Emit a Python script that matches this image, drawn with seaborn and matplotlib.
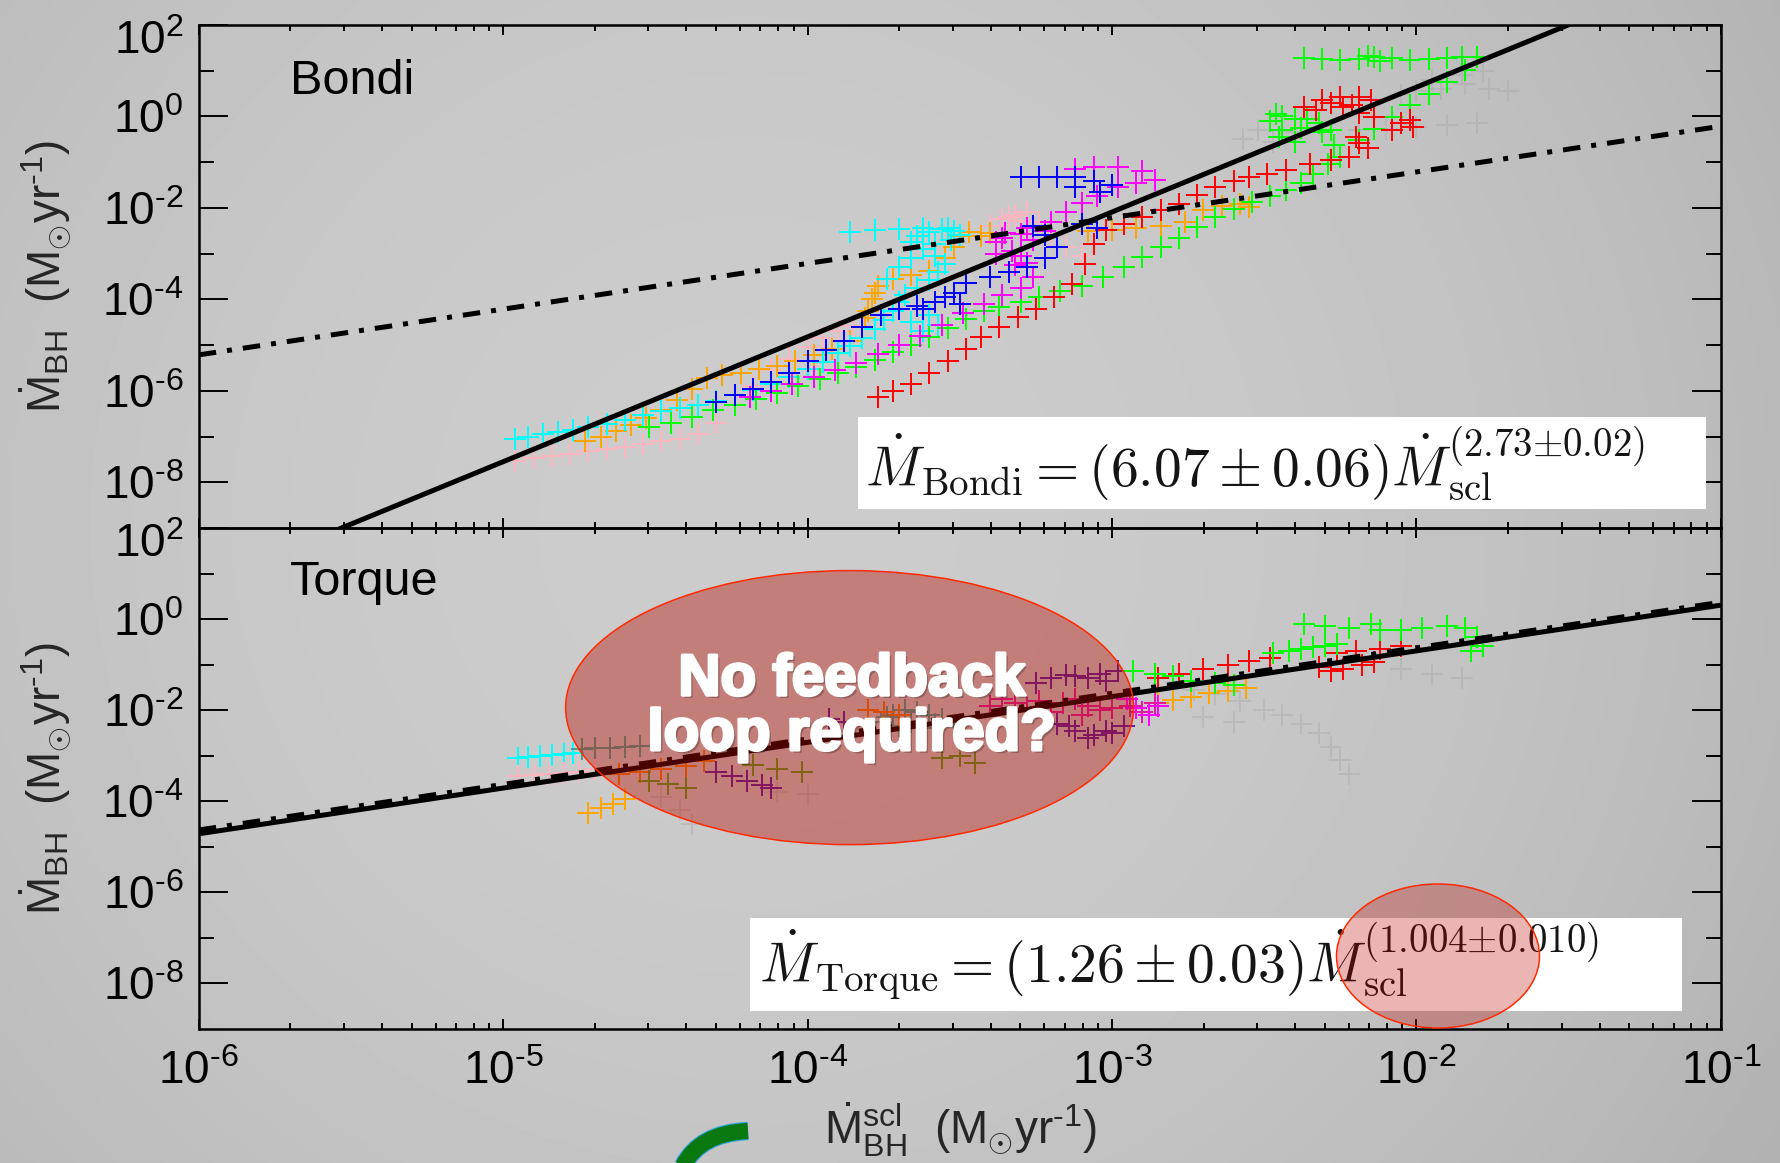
import numpy as np
import pandas as pd
import matplotlib
matplotlib.use("Agg")
import matplotlib.pyplot as plt
import seaborn as sns
from matplotlib import font_manager
from matplotlib.patches import Ellipse, Rectangle, PathPatch
from matplotlib.path import Path
from matplotlib.transforms import ScaledTranslation
import matplotlib.patheffects as pe
from matplotlib.ticker import FixedLocator, FuncFormatter, NullFormatter, LogLocator

# ---------------- data (log10 values) ----------------
# Top panel: Bondi model, (log10 Mdot_scl, log10 Mdot_BH)
bondi_cyan = [(-4.96,-7.05),(-4.92,-7.00),(-4.87,-6.95),(-4.82,-6.90),(-4.77,-6.86),(-4.72,-6.80),
              (-4.66,-6.72),(-4.60,-6.63),(-4.54,-6.52),(-4.48,-6.45),(-4.42,-6.38),(-4.36,-6.31),
              (-4.30,-6.22),(-4.24,-6.10),(-4.18,-5.98),(-4.12,-5.85),(-4.06,-5.70),(-4.00,-5.52),
              (-3.95,-5.36),(-3.90,-5.18),(-3.86,-5.02),(-3.82,-4.85),(-3.78,-4.65),(-3.75,-4.45),
              (-3.72,-4.25),(-3.70,-4.05),(-3.68,-3.90),(-3.64,-3.75),(-3.60,-3.58),(-3.57,-3.40),
              (-3.55,-3.22),(-3.58,-3.05),(-3.62,-2.90),(-3.66,-2.75),(-3.64,-2.62),(-3.60,-2.52),
              (-3.56,-2.47),(-3.52,-2.50),(-3.50,-2.60),(-3.54,-2.45),(-3.62,-2.44),(-3.70,-2.46),
              (-3.78,-2.48),(-3.86,-2.52),(-3.60,-4.35),(-3.57,-4.55),(-3.62,-4.70),(-3.66,-4.50),
              (-3.74,-3.55),(-3.70,-3.30),(-3.66,-3.10),(-3.58,-2.80),(-3.53,-2.70)]
bondi_orange = [(-4.73,-7.09),(-4.68,-7.00),(-4.63,-6.88),(-4.58,-6.75),(-4.53,-6.60),(-4.48,-6.42),
                (-4.43,-6.20),(-4.38,-5.95),(-4.33,-5.72),(-4.28,-5.66),(-4.22,-5.60),(-4.16,-5.53),
                (-4.10,-5.45),(-4.04,-5.35),(-3.98,-5.22),(-3.92,-5.08),(-3.86,-4.92),(-3.82,-4.60),
                (-3.80,-4.25),(-3.79,-4.00),(-3.77,-3.70),(-3.72,-3.55),(-3.66,-3.47),(-3.60,-3.38),
                (-3.55,-3.10),(-3.52,-2.85),(-3.50,-2.62),(-3.47,-2.52),(-3.43,-2.62),(-3.40,-2.55),
                (-3.08,-2.50),(-3.00,-2.48),(-2.92,-2.45),(-2.84,-2.40),(-2.76,-2.30),(-2.70,-2.05),
                (-2.64,-1.95),(-2.58,-1.92),(-2.55,-1.98),(-3.81,-4.40),(-3.78,-3.85)]
bondi_pink = [(-4.96,-7.53),(-4.90,-7.48),(-4.84,-7.43),(-4.78,-7.38),(-4.72,-7.32),(-4.66,-7.27),
              (-4.60,-7.22),(-4.54,-7.16),(-4.48,-7.10),(-4.42,-7.05),(-4.36,-6.95),(-4.30,-6.70),
              (-4.24,-6.30),(-4.18,-5.90),(-4.12,-5.55),(-4.06,-5.30),(-4.00,-5.05),(-3.95,-4.85),
              (-3.90,-4.70),(-3.85,-4.58),(-3.40,-2.40),(-3.36,-2.25),(-3.32,-2.15),(-3.28,-2.10),
              (-3.24,-2.30),(-3.20,-2.60),(-3.15,-2.85),(-3.10,-3.05),(-3.34,-2.20),(-3.30,-2.28)]
bondi_blue = [(-4.30,-6.25),(-4.24,-6.10),(-4.18,-5.95),(-4.12,-5.80),(-4.06,-5.60),(-4.00,-5.35),
              (-3.94,-5.10),(-3.88,-4.90),(-3.82,-4.60),(-3.76,-4.35),(-3.70,-4.22),(-3.64,-4.15),
              (-3.58,-4.05),(-3.52,-3.85),(-3.48,-3.65),(-3.40,-3.50),(-3.34,-3.40),(-3.28,-3.30),
              (-3.22,-3.10),(-3.18,-2.85),(-3.22,-2.60),(-3.26,-2.40),(-3.10,-2.35),(-3.05,-2.45),
              (-3.04,-1.65),(-3.00,-1.50),(-3.06,-1.42),(-3.12,-1.55),(-3.30,-1.32),(-3.24,-1.32),
              (-3.18,-1.33),(-3.12,-1.33),(-3.55,-3.95),(-3.62,-4.20),(-3.50,-4.10)]
bondi_magenta = [(-4.19,-6.14),(-4.12,-6.00),(-4.05,-5.85),(-3.98,-5.70),(-3.91,-5.55),(-3.84,-5.40),
                 (-3.77,-5.20),(-3.70,-5.00),(-3.63,-4.80),(-3.56,-4.55),(-3.49,-4.30),(-3.42,-4.10),
                 (-3.36,-3.90),(-3.30,-3.75),(-3.26,-3.50),(-3.28,-3.20),(-3.33,-2.95),(-3.38,-2.75),
                 (-3.35,-2.55),(-3.28,-2.45),(-3.20,-2.30),(-3.15,-2.10),(-3.10,-1.90),(-3.05,-1.75),
                 (-2.98,-1.55),(-2.92,-1.45),(-2.86,-1.40),(-2.90,-1.20),(-2.98,-1.10),(-3.06,-1.10),
                 (-3.12,-1.15),(-3.30,-3.05),(-3.36,-2.65),(-3.22,-2.50),(-3.38,-3.00),(-3.32,-3.25),
                 (-3.26,-2.70),(-3.30,-2.58)]
bondi_green = [(-4.52,-6.80),(-4.45,-6.70),(-4.38,-6.57),(-4.31,-6.43),(-4.24,-6.30),(-4.17,-6.17),
               (-4.10,-6.05),(-4.03,-5.90),(-3.96,-5.75),(-3.90,-5.60),(-3.84,-5.48),(-3.78,-5.32),
               (-3.72,-5.15),(-3.66,-5.00),(-3.60,-4.83),(-3.54,-4.62),(-3.48,-4.42),(-3.42,-4.25),
               (-3.37,-4.17),(-3.30,-4.05),(-3.24,-3.95),(-3.17,-3.82),(-3.10,-3.70),(-3.03,-3.50),
               (-2.96,-3.30),(-2.90,-3.07),(-2.84,-2.85),(-2.78,-2.65),(-2.72,-2.42),(-2.66,-2.20),
               (-2.60,-2.02),(-2.54,-1.88),(-2.48,-1.74),(-2.43,-1.61),(-2.38,-1.45),(-2.34,-1.25),
               (-2.29,-1.05),(-2.25,-0.88),(-2.27,-0.62),(-2.31,-0.35),(-2.38,-0.25),(-2.44,-0.30),
               (-2.48,-0.10),(-2.46,0.05),(-2.40,-0.05),(-2.44,0.00),(-2.36,-0.05),(-2.32,-0.15),
               (-2.28,-0.30),(-2.45,-0.45),(-2.40,-0.55),
               (-2.19,-0.52),(-2.14,-0.28),(-2.08,-0.01),(-2.02,0.25),(-1.96,0.50),(-1.90,0.75),
               (-1.84,1.01),(-1.80,1.31),(-2.37,1.27),(-2.31,1.25),(-2.25,1.23),(-2.19,1.26),
               (-2.14,1.31),(-2.08,1.27),(-2.02,1.23),(-1.96,1.25),(-1.90,1.27),(-1.85,1.30),
               (-2.16,1.33),(-2.12,1.22)]
bondi_red = [(-3.77,-6.14),(-3.72,-6.00),(-3.66,-5.85),(-3.60,-5.60),(-3.54,-5.34),(-3.48,-5.08),
             (-3.43,-4.83),(-3.37,-4.60),(-3.31,-4.39),(-3.25,-4.20),(-3.19,-3.95),(-3.13,-3.66),
             (-3.09,-3.22),(-3.06,-2.78),(-3.02,-2.49),(-2.96,-2.35),(-2.90,-2.20),(-2.84,-2.05),
             (-2.78,-1.91),(-2.72,-1.72),(-2.66,-1.54),(-2.60,-1.42),(-2.55,-1.32),(-2.49,-1.25),
             (-2.43,-1.18),(-2.35,-1.03),(-2.28,-0.95),(-2.22,-0.88),(-2.19,-0.59),(-2.16,-0.70),
             (-2.20,-0.45),(-2.14,-0.01),(-2.08,-0.30),(-2.02,-0.08),(-2.01,-0.23),(-2.05,-0.15),
             (-2.19,0.07),(-2.37,0.21),(-2.33,0.14),(-2.31,0.36),(-2.28,0.30),(-2.25,0.43),
             (-2.24,0.21),(-2.19,0.43),(-2.15,0.36),(-2.21,0.25)]
bondi_gray = [(-2.57,-0.50),(-2.52,-0.30),(-2.47,-0.55),(-2.40,-0.35),(-2.19,-0.30),(-2.10,-0.28),
              (-2.00,-0.22),(-1.90,-0.18),(-1.80,-0.15),(-2.00,0.55),(-1.92,0.60),(-1.84,0.70),
              (-1.76,0.60),(-1.70,0.55),(-1.85,0.90),(-1.78,1.00),(-2.05,0.48),(-1.95,0.80)]

# Bottom panel: Torque model
torque_cyan = [(-4.95,-3.05),(-4.92,-3.02),(-4.88,-3.00),(-4.84,-2.98),(-4.80,-2.97),(-4.77,-2.95)]
torque_teal = [(-4.74,-2.85),(-4.70,-2.83),(-4.65,-2.82),(-4.60,-2.80),(-4.55,-2.78),
               (-3.76,-2.25),(-3.72,-2.10),(-3.68,-2.00),(-3.64,-2.05),(-3.60,-2.10),(-3.56,-2.20),
               (-3.52,-2.35),(-3.70,-2.35),(-3.62,-2.40),(-3.74,-2.15),(-3.66,-2.25),(-3.58,-2.30)]
torque_pink = [(-4.95,-3.45),(-4.90,-3.42),(-4.85,-3.40),(-4.80,-3.38),(-4.75,-3.35),(-4.70,-3.30)]
torque_orange = [(-4.72,-4.25),(-4.68,-4.15),(-4.64,-4.05),(-4.60,-3.95),
                 (-2.85,-1.85),(-2.80,-1.78),(-2.74,-1.70),(-2.68,-1.62),(-2.62,-1.58),(-2.56,-1.52)]
torque_darkorange = [(-4.62,-3.40),(-4.55,-3.35),(-4.48,-3.30),(-4.40,-3.22),(-4.34,-3.12),
                     (-3.80,-2.00),(-3.75,-2.05),(-3.70,-2.10)]
torque_olive = [(-4.52,-3.55),(-4.46,-3.62),(-4.40,-3.70),(-4.18,-3.20),(-4.10,-3.30),(-4.02,-3.35),
                (-3.56,-3.05),(-3.50,-3.00),(-3.45,-3.15)]
torque_purple = [(-4.30,-3.35),(-4.25,-3.45),(-4.20,-3.55),(-4.15,-3.65),(-4.12,-3.70),(-3.93,-2.20),
                 (-3.88,-2.25),(-3.25,-1.40),(-3.20,-1.30),(-3.12,-1.25),(-3.04,-1.20),(-2.98,-1.15),
                 (-3.18,-2.30),(-3.12,-2.45),(-3.06,-2.55),(-3.00,-2.50),(-2.96,-2.35),
                 (-3.15,-1.22),(-3.08,-1.30),(-3.02,-1.35),(-3.14,-2.35),(-3.08,-2.60),(-3.02,-2.45)]
torque_deeppink = [(-3.40,-1.90),(-3.32,-1.85),(-3.24,-1.80),(-3.16,-1.85),(-3.08,-1.90),(-3.00,-1.95),
                   (-2.94,-1.90),(-2.90,-2.05),(-2.86,-1.85),(-3.20,-2.05),(-3.10,-2.10),
                   (-3.36,-1.75),(-3.28,-1.95),(-3.12,-1.75),(-3.04,-2.00)]
torque_magenta = [(-2.95,-1.75),(-2.92,-1.95),(-2.88,-2.10),(-2.85,-1.90)]
torque_red = [(-2.85,-1.30),(-2.78,-1.20),(-2.70,-1.10),(-2.62,-1.00),(-2.55,-0.92),(-2.48,-0.85),
              (-2.32,-1.05),(-2.28,-1.15),(-2.24,-1.10),(-2.18,-1.00),(-2.14,-0.95),(-2.26,-0.75),
              (-2.20,-0.70),(-2.12,-0.65),(-2.05,-0.60)]
torque_green = [(-2.93,-1.15),(-2.86,-1.20),(-2.80,-1.25),(-2.74,-1.35),(-2.66,-1.40),(-2.60,-1.45),
                (-2.47,-0.75),(-2.42,-0.70),(-2.38,-0.65),(-2.34,-0.62),(-2.30,-0.60),(-2.26,-0.55),
                (-2.37,-0.10),(-2.30,-0.15),(-2.22,-0.20),(-2.15,-0.10),(-2.12,-0.25),(-2.05,-0.25),
                (-1.98,-0.20),(-1.90,-0.15),(-1.84,-0.20),(-1.80,-0.40),(-1.78,-0.60),(-1.82,-0.70)]
torque_gray = [(-2.73,-1.55),(-2.66,-1.65),(-2.58,-1.80),(-2.50,-2.00),(-2.44,-2.10),(-2.38,-2.30),
               (-2.32,-2.50),(-2.28,-2.80),(-2.25,-3.10),(-2.22,-3.40),(-2.05,-1.10),(-1.95,-1.20),
               (-1.85,-1.30),(-4.48,-3.90),(-4.42,-4.20),(-4.38,-4.50),(-4.10,-3.80),(-4.00,-3.85),
               (-2.60,-2.25),(-2.70,-2.15)]

# fits: (slope, log10 normalisation)
bondi_fit = (2.73, 6.10)
bondi_linear = (1.0, 0.786)
torque_fit = (1.004, 1.31)
torque_linear = (1.0, 1.37)

x_tick_exps = [-6, -5, -4, -3, -2, -1]
y_tick_exps = [-8, -6, -4, -2, 0, 2]
y_minor_exps = [-7, -5, -3, -1, 1]

# ---------------- styles ----------------
colors = {
    "cyan": "#00ffff", "orange": "#ffa500", "pink": "#ffb6c1", "blue": "#0000ff",
    "magenta": "#ff00ff", "green": "#00ff00", "red": "#ff0000", "gray": "#a6a6a6",
    "teal": "#4f9b90", "darkorange": "#f07800", "olive": "#5a9e20", "purple": "#5b1a9e",
    "deeppink": "#e0189a",
}

rows = []
for panel, series in [
    ("bondi", {"gray": bondi_gray, "pink": bondi_pink, "orange": bondi_orange, "cyan": bondi_cyan,
               "green": bondi_green, "red": bondi_red, "magenta": bondi_magenta, "blue": bondi_blue}),
    ("torque", {"gray": torque_gray, "cyan": torque_cyan, "pink": torque_pink, "teal": torque_teal,
                "orange": torque_orange, "darkorange": torque_darkorange, "olive": torque_olive,
                "purple": torque_purple, "deeppink": torque_deeppink, "magenta": torque_magenta,
                "red": torque_red, "green": torque_green}),
]:
    for name, pts in series.items():
        for lx, ly in pts:
            rows.append((panel, name, 10.0 ** lx, 10.0 ** ly))
df = pd.DataFrame(rows, columns=["panel", "series", "mdot_scl", "mdot_bh"])

# ---------------- figure ----------------
sns.set_theme(style="ticks")
installed = {f.name for f in font_manager.fontManager.ttflist}
narrow = "Liberation Sans Narrow" if "Liberation Sans Narrow" in installed else "Liberation Sans"
tick_fs = 36 if narrow == "Liberation Sans Narrow" else 33
lab_fs = 38 if narrow == "Liberation Sans Narrow" else 33
plt.rcParams["font.family"] = [narrow, "DejaVu Sans"]
plt.rcParams["mathtext.fontset"] = "custom"
plt.rcParams["mathtext.rm"] = narrow
plt.rcParams["mathtext.it"] = narrow + ":italic"
plt.rcParams["mathtext.bf"] = narrow + ":bold"

W, H = 1781, 1163
fig = plt.figure(figsize=(W / 100, H / 100), dpi=100)
fig.patch.set_facecolor("#c6c6c6")

# soft slide background (vignette)
yy, xx = np.mgrid[0:H, 0:W]
u = xx / W
v = yy / H
bg = 0.800 - 0.075 * ((u - 0.42) / 0.58) ** 2 - 0.03 * ((v - 0.45) / 0.55) ** 2
fig.figimage(np.clip(bg, 0, 1), cmap="gray", vmin=0, vmax=1, zorder=-5)

left, width = 198.8 / W, 1522 / W
ax1 = fig.add_axes([left, 1 - 528 / H, width, (528 - 25) / H])
ax2 = fig.add_axes([left, 1 - 1029 / H, width, (1029 - 528) / H])


def fmt(val, pos):
    e = int(round(np.log10(val)))
    if e < 0:
        return r"$\mathregular{10^{\text{-}%d}}$" % (-e)
    return r"$\mathregular{10^{%d}}$" % e


for ax, panel in [(ax1, "bondi"), (ax2, "torque")]:
    ax.set_facecolor("none")
    sub = df[df.panel == panel]
    for name in sub.series.unique():
        s = sub[sub.series == name]
        is_gray = name == "gray"
        sns.scatterplot(data=s, x="mdot_scl", y="mdot_bh", marker="+", s=260,
                        color=colors[name], linewidth=1.4, alpha=0.4 if is_gray else 1.0,
                        ax=ax, legend=False, zorder=2)
    ax.set_xscale("log")
    ax.set_yscale("log")
    ax.set_xlim(1e-6, 1e-1)
    ax.set_ylim(1e-9, 1e2)
    ax.set_xlabel("")
    ax.set_ylabel("")
    ax.xaxis.set_major_locator(FixedLocator([10.0 ** e for e in x_tick_exps]))
    ax.xaxis.set_minor_locator(LogLocator(base=10, subs=np.arange(2, 10), numticks=50))
    ax.yaxis.set_major_locator(FixedLocator([10.0 ** e for e in y_tick_exps]))
    ax.yaxis.set_minor_locator(FixedLocator([10.0 ** e for e in y_minor_exps]))
    ax.yaxis.set_major_formatter(FuncFormatter(fmt))
    ax.yaxis.set_minor_formatter(NullFormatter())
    ax.xaxis.set_major_formatter(FuncFormatter(fmt))
    ax.xaxis.set_minor_formatter(NullFormatter())
    ax.tick_params(axis="both", which="both", direction="in", top=True, right=True,
                   color="black", width=1.4, labelsize=tick_fs, labelcolor="black")
    ax.tick_params(axis="y", which="major", length=21, pad=11)
    ax.tick_params(axis="y", which="minor", length=11)
    ax.tick_params(axis="x", which="major", length=7.5, pad=15)
    ax.tick_params(axis="x", which="minor", length=4)
    for sp in ax.spines.values():
        sp.set_visible(True)
        sp.set_linewidth(1.8)
        sp.set_color("black")

ax1.tick_params(axis="x", labelbottom=False)

xs = np.array([1e-6, 1e-1])
for ax, fit, lin in [(ax1, bondi_fit, bondi_linear), (ax2, torque_fit, torque_linear)]:
    ax.plot(xs, 10 ** lin[1] * xs ** lin[0], color="black", lw=3.6,
            linestyle=(0, (3.5, 2.2, 1.0, 2.2)), zorder=4)
    ax.plot(xs, 10 ** fit[1] * xs ** fit[0], color="black", lw=3.6,
            solid_capstyle="butt", zorder=5)

ax1.text(0.0597, 0.887, "Bondi", transform=ax1.transAxes, ha="left", va="center",
         fontsize=35, color="black", family=["Liberation Sans", "DejaVu Sans"])
ax2.text(0.0597, 0.891, "Torque", transform=ax2.transAxes, ha="left", va="center",
         fontsize=35, color="black", family=["Liberation Sans", "DejaVu Sans"])

# axis labels
unit = r"(M$_{\odot}$yr$^{\text{-}1}$)"
ylab = r"$\dot{\mathrm{M}}_{\mathrm{BH}}$  " + unit
fig.text(45 / W, 1 - 277 / H, ylab, rotation=90, ha="center", va="center", fontsize=lab_fs)
fig.text(45 / W, 1 - 779 / H, ylab, rotation=90, ha="center", va="center", fontsize=lab_fs)
fig.text(960 / W, 1 - 1130 / H,
         r"$\dot{\mathrm{M}}^{\mathrm{scl}}_{\mathrm{BH}}$  " + unit,
         ha="center", va="center", fontsize=lab_fs)

# ellipse annotation
ell = Ellipse((0.4276, 0.6415), 0.3732, 0.547, transform=ax2.transAxes,
              facecolor=(0.73, 0.045, 0.0, 0.40), edgecolor="#ff2a00", lw=1.1,
              zorder=6, clip_on=False)
ax2.add_patch(ell)
ax2.text(0.4292, 0.6415, "No feedback\nloop required?", transform=ax2.transAxes,
         ha="center", va="center", color="white", fontsize=42, fontweight="bold",
         family=["Liberation Sans", "DejaVu Sans"], linespacing=1.02, zorder=8,
         path_effects=[pe.withSimplePatchShadow(offset=(2, -2), shadow_rgbFace="black", alpha=0.25),
                       pe.withStroke(linewidth=2.2, foreground="white")])

# equation boxes
fig.add_artist(Rectangle((857.6 / W, 1 - 508.9 / H), (1706 - 857.6) / W, 92 / H,
                         transform=fig.transFigure, facecolor="white", edgecolor="none", zorder=10))
fig.add_artist(Rectangle((749.7 / W, 1 - 1010.9 / H), (1682.2 - 749.7) / W, 93.1 / H,
                         transform=fig.transFigure, facecolor="white", edgecolor="none", zorder=10))
eq_kw = dict(ha="left", va="baseline", color="#151515", math_fontfamily="cm", zorder=11)
fig.text(865.5 / W, 1 - 486 / H,
         r"$\dot{M}_{\rm Bondi} = (6.07 \pm 0.06)\dot{M}_{\rm scl}^{(2.73{\pm}0.02)}$",
         fontsize=40, **eq_kw)
fig.text(758.8 / W, 1 - 982.5 / H,
         r"$\dot{M}_{\rm Torque} = (1.26 \pm 0.03)\dot{M}_{\rm scl}^{(1.004{\pm}0.010)}$",
         fontsize=40, **eq_kw)

fig.add_artist(Ellipse((1438 / W, 1 - 956 / H), 203 / W, 144 / H, transform=fig.transFigure,
                       facecolor=(0.73, 0.045, 0.0, 0.30), edgecolor="#ff2a00", lw=1.1, zorder=12))

# green curved arrow (cut off at the bottom edge)
verts = [(748 / W, 1 - 1131 / H), (700 / W, 1 - 1133 / H), (683 / W, 1 - 1166 / H)]
arc = Path(verts, [Path.MOVETO, Path.CURVE3, Path.CURVE3])
fig.add_artist(PathPatch(arc, transform=fig.transFigure, facecolor="none", edgecolor="#2aa0d8",
                         lw=13.2, capstyle="butt", zorder=9))
fig.add_artist(PathPatch(arc, transform=fig.transFigure, facecolor="none", edgecolor="#08780f",
                         lw=11.5, capstyle="butt", zorder=9.5))

# the 10^2 labels sit a little lower than their tick in the original
fig.canvas.draw()
for ax in (ax1, ax2):
    for tick in ax.yaxis.get_major_ticks():
        if abs(tick.get_loc() - 1e2) < 1:
            lab = tick.label1
            lab.set_transform(lab.get_transform() + ScaledTranslation(0, -12 / 100, fig.dpi_scale_trans))

fig.savefig("out.png", dpi=100, facecolor=fig.get_facecolor())
